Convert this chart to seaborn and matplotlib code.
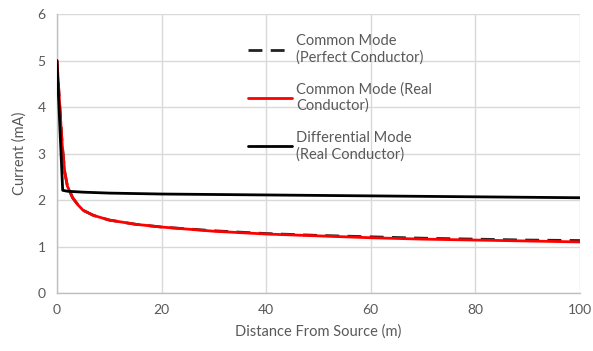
import matplotlib
matplotlib.use("Agg")
import matplotlib.pyplot as plt
import seaborn as sns
import pandas as pd

distance = [0, 0.5, 1, 1.5, 2, 3, 4, 5, 7, 10, 15, 20, 30, 40, 50, 60, 70, 80, 90, 100]
cm_real = [5.0, 4.1, 3.2, 2.6, 2.3, 2.05, 1.9, 1.78, 1.67, 1.57, 1.48, 1.42, 1.33, 1.27, 1.23, 1.19, 1.16, 1.14, 1.12, 1.10]
cm_perfect = [5.0, 4.1, 3.2, 2.6, 2.3, 2.05, 1.9, 1.78, 1.67, 1.57, 1.48, 1.42, 1.34, 1.28, 1.24, 1.21, 1.18, 1.16, 1.14, 1.13]
dm_distance = [0, 1.1, 2, 5, 10, 20, 40, 60, 80, 100]
dm_real = [5.0, 2.21, 2.19, 2.17, 2.15, 2.13, 2.11, 2.09, 2.07, 2.05]

labels = ["Common Mode\n(Perfect Conductor)", "Common Mode (Real\nConductor)", "Differential Mode\n(Real Conductor)"]
xticks = [0, 20, 40, 60, 80, 100]
yticks = [0, 1, 2, 3, 4, 5, 6]

sns.set_style("white")
plt.rcParams['font.family'] = ['Lato', 'DejaVu Sans']

fig = plt.figure(figsize=(5.93, 3.51), dpi=100)
ax = fig.add_axes([0.096, 0.165, 0.882, 0.795])

df_cm = pd.DataFrame({"x": distance, "real": cm_real, "perfect": cm_perfect})
df_dm = pd.DataFrame({"x": dm_distance, "y": dm_real})

sns.lineplot(data=df_cm, x="x", y="perfect", ax=ax, color="#222222", lw=2, label=labels[0], zorder=3)
ax.lines[-1].set_linestyle((0, (5, 3)))
sns.lineplot(data=df_cm, x="x", y="real", ax=ax, color="#ff0000", lw=2, label=labels[1], zorder=4)
sns.lineplot(data=df_dm, x="x", y="y", ax=ax, color="black", lw=2, label=labels[2], zorder=5)

gray = "#595959"
ax.set_xlim(0, 100)
ax.set_ylim(0, 6)
ax.set_xticks(xticks)
ax.set_yticks(yticks)
ax.grid(True, color="#d9d9d9", lw=1)
ax.set_axisbelow(True)
for s in ["top", "right"]:
    ax.spines[s].set_visible(False)
for s in ["left", "bottom"]:
    ax.spines[s].set_color("#bfbfbf")
    ax.spines[s].set_linewidth(1)
ax.tick_params(axis="both", colors=gray, labelsize=10, length=0, pad=8)
ax.set_xlabel("Distance From Source (m)", color=gray, fontsize=10.5, labelpad=6)
ax.set_ylabel("Current (mA)", color=gray, fontsize=10.5, labelpad=8)

h, l = ax.get_legend_handles_labels()
order = [l.index(labels[0]), l.index(labels[1]), l.index(labels[2])]
leg = ax.legend([h[i] for i in order], [l[i] for i in order], loc="upper left",
                bbox_to_anchor=(0.34, 0.975), frameon=False, fontsize=10.5,
                handlelength=3.0, labelspacing=1.2, handletextpad=0.3)
for t in leg.get_texts():
    t.set_color(gray)

fig.savefig("out.png", dpi=100)
